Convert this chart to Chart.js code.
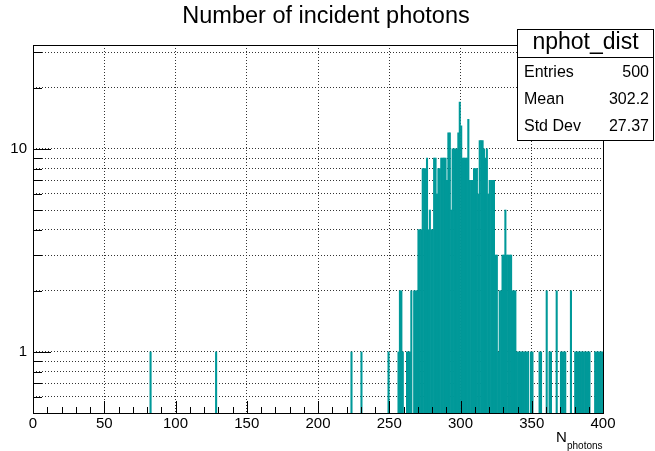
<!DOCTYPE html>
<html>
<head>
<meta charset="utf-8">
<title>Number of incident photons</title>
<script src="https://cdn.jsdelivr.net/npm/chart.js@4.4.0/dist/chart.umd.min.js"></script>
<style>
  html, body { margin: 0; padding: 0; background: #ffffff; }
  #wrap { position: relative; width: 655px; height: 451px; }
  canvas { display: block; }
</style>
</head>
<body>
<div id="wrap"><canvas id="c" width="655" height="451"></canvas></div>
<script>
// Histogram nphot_dist: 400 unit-wide bins on [0, 400); only non-empty bins listed.
const binLowEdges = [
  82, 128, 223, 230, 249, 256, 257, 258, 259,
  262, 263, 264, 265, 267, 268, 269,
  270, 271, 272, 273, 274, 275, 276, 277, 278, 279,
  280, 281, 282, 283, 284, 285, 286, 287, 288, 289,
  290, 291, 292, 293, 294, 295, 296, 297, 298, 299,
  300, 301, 302, 303, 304, 305, 306, 307, 308, 309,
  310, 311, 312, 313, 314, 315, 316, 317, 318, 319,
  320, 321, 322, 323, 324, 325, 326, 327, 328, 329,
  330, 331, 332, 333, 334, 335, 336, 337, 338, 339,
  340, 341, 342, 343, 344, 345, 346, 347, 349,
  350, 355, 356, 360, 362, 363, 367,
  370, 371, 372, 373, 377,
  380, 381, 382, 383, 384, 385, 386, 387, 388, 389,
  390, 394, 395, 396, 397, 398, 399
];
const binCounts = [
  1, 1, 1, 1, 1, 1, 2, 2, 1,
  1, 1, 1, 2, 2, 2, 2,
  4, 4, 4, 8, 8, 8, 9, 4, 5, 4,
  4, 9, 9, 6, 8, 8, 9, 9, 9, 9,
  7, 12, 12, 5, 10, 10, 10, 10, 12, 17,
  13, 9, 9, 9, 9, 14, 7, 7, 7, 8,
  8, 8, 6, 11, 11, 11, 10, 9, 10, 6,
  7, 7, 7, 7, 3, 3, 1, 2, 2, 3,
  3, 5, 3, 3, 3, 3, 2, 2, 2, 1,
  1, 1, 1, 1, 1, 1, 1, 1, 1,
  1, 1, 1, 2, 1, 1, 2,
  1, 1, 1, 1, 2,
  1, 1, 1, 1, 1, 1, 1, 1, 1, 1,
  1, 1, 1, 1, 1, 1, 1
];

// Axis ticks
const xTickValues = [];
for (let v = 0; v <= 400; v += 10) xTickValues.push(v);
const xLabelStep = 50;
const yTickValues = [0.6, 0.7, 0.8, 0.9, 1, 2, 3, 4, 5, 6, 7, 8, 9, 10, 20, 30];
const yLabelledValues = [1, 10];

// Statistics box
const statsTitle = 'nphot_dist';
const statsNames = ['Entries', 'Mean', 'Std Dev'];
const statsValues = ['500', '302.2', '27.37'];

const FONT = '"Liberation Sans", Arial, Helvetica, sans-serif';

// ROOT-style frame, inward tick marks, title, axis title and stats box
const rootDecorations = {
  id: 'rootDecorations',
  afterDatasetsDraw(chart) {
    const { ctx, chartArea: a, scales } = chart;
    ctx.save();
    ctx.strokeStyle = '#000';
    ctx.lineWidth = 1;

    // x tick marks (pointing up into the frame)
    ctx.beginPath();
    xTickValues.forEach(v => {
      const px = Math.round(scales.x.getPixelForValue(v)) + 0.5;
      const len = v % xLabelStep === 0 ? 12 : 6;
      ctx.moveTo(px, a.bottom);
      ctx.lineTo(px, a.bottom - len);
    });
    // y tick marks (pointing right into the frame)
    yTickValues.forEach(v => {
      const py = Math.round(scales.y.getPixelForValue(v)) + 0.5;
      const len = yLabelledValues.includes(v) ? 18 : 9;
      ctx.moveTo(a.left, py);
      ctx.lineTo(a.left + len, py);
    });
    ctx.stroke();

    // frame
    ctx.strokeRect(Math.round(a.left) + 0.5, Math.round(a.top) + 0.5,
                   Math.round(a.right - a.left), Math.round(a.bottom - a.top));

    // title
    ctx.fillStyle = '#000';
    ctx.font = '23.5px ' + FONT;
    ctx.textAlign = 'center';
    ctx.textBaseline = 'middle';
    ctx.fillText('Number of incident photons', 326, 17);

    // x axis title N_photons
    ctx.textAlign = 'left';
    ctx.textBaseline = 'alphabetic';
    ctx.font = '15px ' + FONT;
    ctx.fillText('N', 556, 442);
    ctx.font = '10px ' + FONT;
    ctx.fillText('photons', 567, 449);

    // stats box
    const bx = 517.5, by = 29.5, bw = 136, bh = 111;
    ctx.fillStyle = '#fff';
    ctx.fillRect(bx, by, bw, bh);
    ctx.strokeRect(bx, by, bw, bh);
    ctx.beginPath();
    ctx.moveTo(bx, 57.5);
    ctx.lineTo(bx + bw, 57.5);
    ctx.stroke();
    ctx.fillStyle = '#000';
    ctx.font = '23px ' + FONT;
    ctx.textAlign = 'center';
    ctx.textBaseline = 'middle';
    ctx.fillText(statsTitle, bx + bw / 2, 43);
    ctx.font = '16px ' + FONT;
    statsNames.forEach((name, i) => {
      const y = 73 + i * 27;
      ctx.textAlign = 'left';
      ctx.fillText(name, 524, y);
      ctx.textAlign = 'right';
      ctx.fillText(statsValues[i], 649, y);
    });
    ctx.restore();
  }
};

new Chart(document.getElementById('c'), {
  type: 'bar',
  data: {
    datasets: [{
      label: statsTitle,
      data: binLowEdges.map((b, i) => ({ x: b + 0.5, y: binCounts[i] })),
      backgroundColor: '#009999',
      borderWidth: 0,
      categoryPercentage: 1.0,
      barPercentage: 1.0
    }]
  },
  options: {
    responsive: false,
    animation: false,
    devicePixelRatio: 1,
    layout: { padding: { top: 45, right: 52, left: 0, bottom: 0 } },
    plugins: { legend: { display: false }, tooltip: { enabled: false }, title: { display: false } },
    scales: {
      x: {
        type: 'linear',
        min: 0,
        max: 400,
        offset: false,
        afterBuildTicks: s => { s.ticks = xTickValues.map(v => ({ value: v })); },
        afterFit: s => { s.height = 38; s.paddingLeft = 0; s.paddingRight = 0; },
        ticks: {
          autoSkip: false,
          maxRotation: 0,
          padding: 2,
          color: '#000',
          font: { family: FONT, size: 15 },
          callback: v => (v % xLabelStep === 0 ? String(v) : '')
        },
        grid: {
          offset: false,
          drawTicks: false,
          lineWidth: 1,
          color: c => (c.tick && c.tick.value % xLabelStep === 0 && c.tick.value > 0 && c.tick.value < 400) ? '#333' : 'rgba(0,0,0,0)'
        },
        border: { display: false, dash: [1, 2] }
      },
      y: {
        type: 'logarithmic',
        min: 0.5,
        max: 32.5,
        afterBuildTicks: s => { s.ticks = yTickValues.map(v => ({ value: v })); },
        afterFit: s => { s.width = 33; s.paddingTop = 0; s.paddingBottom = 0; },
        ticks: {
          autoSkip: false,
          padding: 6,
          color: '#000',
          font: { family: FONT, size: 15 },
          callback: v => (yLabelledValues.includes(v) ? String(v) : '')
        },
        grid: { drawTicks: false, lineWidth: 1, color: '#333' },
        border: { display: false, dash: [1, 2] }
      }
    }
  },
  plugins: [rootDecorations]
});
</script>
</body>
</html>
